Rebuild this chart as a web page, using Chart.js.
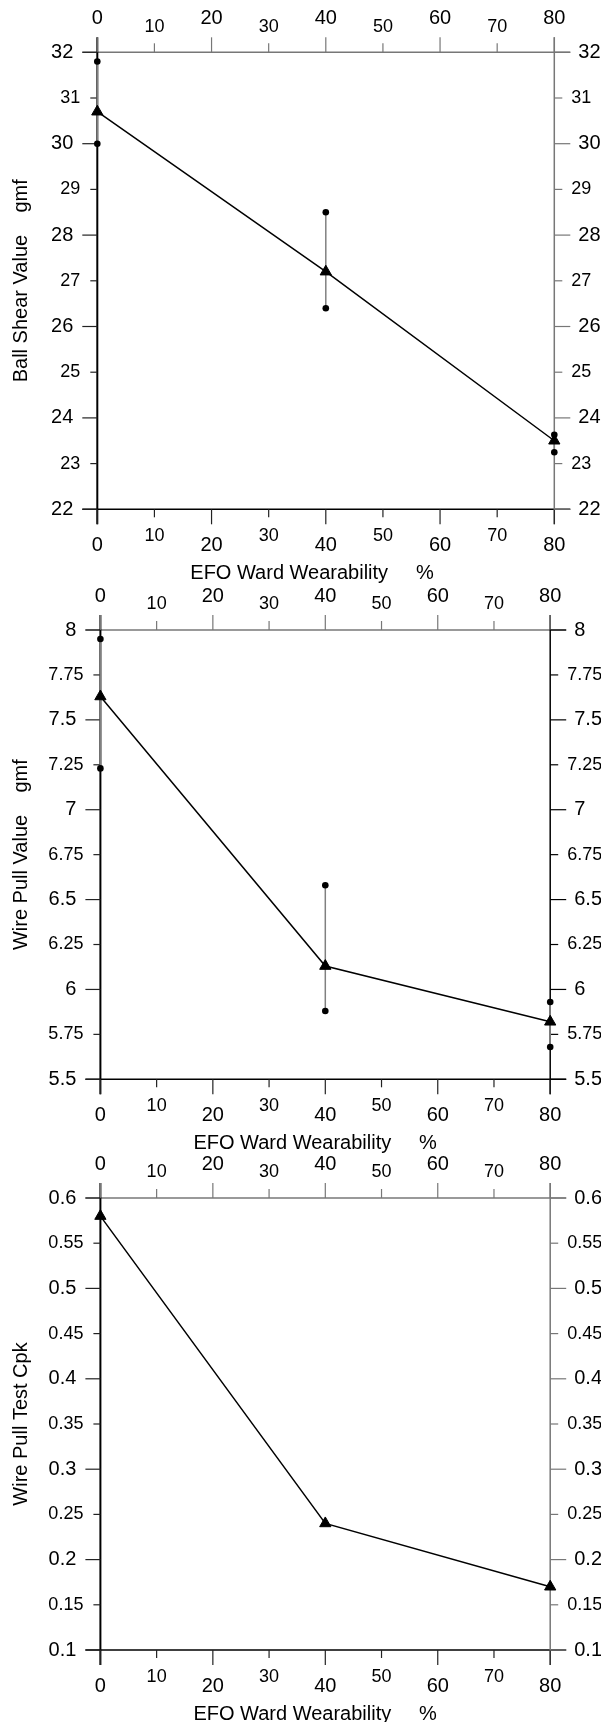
<!DOCTYPE html>
<html>
<head>
<meta charset="utf-8">
<script src="https://cdn.jsdelivr.net/npm/chart.js@4.4.0/dist/chart.umd.min.js"></script>
<style>
html, body { margin: 0; padding: 0; background: #fff; }
#wrap { position: relative; width: 601px; height: 1722px; }
canvas { position: absolute; left: 0; }
</style>
</head>
<body>
<div id="wrap">
  <canvas id="shearChart" style="top:0px" width="601" height="586"></canvas>
  <canvas id="pullChart" style="top:586px" width="601" height="567"></canvas>
  <canvas id="cpkChart" style="top:1153px" width="601" height="569"></canvas>
</div>
<script>
// data
const wearability = [0, 40, 80];

const shearMean = [30.7, 27.2, 23.5];
const shearMax = [31.8, 28.5, 23.63];
const shearMin = [30.0, 26.4, 23.25];

const pullMean = [7.63, 6.13, 5.82];
const pullMax = [7.95, 6.58, 5.93];
const pullMin = [7.23, 5.88, 5.68];

const cpkValues = [0.58, 0.24, 0.17];

const xTicks = [0, 10, 20, 30, 40, 50, 60, 70, 80];
const shearTicks = [22, 23, 24, 25, 26, 27, 28, 29, 30, 31, 32];
const pullTicks = [5.5, 5.75, 6, 6.25, 6.5, 6.75, 7, 7.25, 7.5, 7.75, 8];
const cpkTicks = [0.1, 0.15, 0.2, 0.25, 0.3, 0.35, 0.4, 0.45, 0.5, 0.55, 0.6];

const xTitle = 'EFO Ward Wearability     %';

const FONT = "'Liberation Sans', Arial, sans-serif";

function seg(ctx, x1, y1, x2, y2, color, width) {
    ctx.strokeStyle = color;
    ctx.lineWidth = width;
    ctx.beginPath();
    ctx.moveTo(x1, y1);
    ctx.lineTo(x2, y2);
    ctx.stroke();
}

// draws the boxed axes with staggered ticks and labels
const axisFrame = {
    id: 'axisFrame',
    beforeDatasetsDraw(chart, args, opts) {
        const ctx = chart.ctx;
        const a = chart.chartArea;
        const xs = chart.scales.x;
        const ys = chart.scales.y;
        ctx.save();

        // frame lines
        seg(ctx, a.left - 15, a.top, a.right + 16, a.top, opts.topColor, 1.5);
        seg(ctx, a.left - 15, a.bottom, a.right + 16, a.bottom, '#000', 1.5);
        seg(ctx, a.left, a.top - 15, a.left, a.bottom + 15, '#000', 2);
        seg(ctx, a.right, a.top - 15, a.right, a.bottom + 15, opts.rightColor, 1.5);

        ctx.fillStyle = '#000';

        // x ticks top and bottom
        xTicks.forEach((v, i) => {
            const major = i % 2 === 0;
            const px = xs.getPixelForValue(v);
            seg(ctx, px, a.top, px, a.top - (major ? 15 : 9), opts.topColor, 1.2);
            seg(ctx, px, a.bottom, px, a.bottom + (major ? 15 : 8), '#222', 1.2);
            ctx.font = (major ? 20 : 18) + 'px ' + FONT;
            ctx.textAlign = 'center';
            ctx.textBaseline = 'middle';
            ctx.fillText(String(v), px, a.top - (major ? 34 : 25.5));
            ctx.fillText(String(v), px, a.bottom + (major ? 36 : 27));
        });

        // y ticks left and right
        opts.yTicks.forEach((v, i) => {
            const major = i % 2 === 0;
            const py = ys.getPixelForValue(v);
            seg(ctx, a.left, py, a.left - (major ? 15 : 7), py, '#222', 1.2);
            seg(ctx, a.right, py, a.right + (major ? 16 : 8), py, opts.rightColor, 1.2);
            ctx.font = (major ? 20 : 18) + 'px ' + FONT;
            ctx.textBaseline = 'middle';
            ctx.textAlign = 'right';
            ctx.fillText(String(v), a.left - (major ? 24 : 17), py);
            ctx.textAlign = 'left';
            ctx.fillText(String(v), a.right + (major ? 24 : 17), py);
        });

        // axis titles
        ctx.font = '20px ' + FONT;
        ctx.textAlign = 'left';
        ctx.textBaseline = 'middle';
        ctx.fillText(xTitle, a.left + 93, a.bottom + 64);

        ctx.translate(21, (a.top + a.bottom) / 2);
        ctx.rotate(-Math.PI / 2);
        ctx.textAlign = 'center';
        ctx.fillText(opts.yTitle, 0, 0);

        ctx.restore();
    }
};

function rangeSets(mins, maxs) {
    return wearability.map((x, i) => ({
        data: [{ x: x, y: mins[i] }, { x: x, y: maxs[i] }],
        showLine: true,
        borderColor: '#808080',
        borderWidth: 1.5,
        pointRadius: 3.3,
        pointBackgroundColor: '#000',
        pointBorderColor: '#000',
        pointBorderWidth: 0,
        clip: false
    }));
}

function meanSet(values) {
    return {
        data: wearability.map((x, i) => ({ x: x, y: values[i] })),
        showLine: true,
        borderColor: '#000',
        borderWidth: 1.5,
        pointStyle: 'triangle',
        pointRadius: 6.5,
        pointBackgroundColor: '#000',
        pointBorderColor: '#000',
        pointBorderWidth: 1,
        clip: false
    };
}

function makeChart(id, datasets, yMin, yMax, padding, frame) {
    return new Chart(document.getElementById(id), {
        type: 'scatter',
        data: { datasets: datasets },
        options: {
            responsive: false,
            animation: false,
            devicePixelRatio: 1,
            layout: { padding: padding },
            elements: { line: { tension: 0 } },
            plugins: {
                legend: { display: false },
                tooltip: { enabled: false },
                axisFrame: frame
            },
            scales: {
                x: { type: 'linear', min: 0, max: 80, display: false },
                y: { type: 'linear', min: yMin, max: yMax, display: false }
            }
        },
        plugins: [axisFrame]
    });
}

// Ball shear chart
makeChart('shearChart',
    [meanSet(shearMean)].concat(rangeSets(shearMin, shearMax)),
    22, 32,
    { left: 97.3, right: 46.7, top: 52.3, bottom: 76.7 },
    { topColor: '#777', rightColor: '#777', yTicks: shearTicks, yTitle: 'Ball Shear Value    gmf' });

// Wire pull chart
makeChart('pullChart',
    [meanSet(pullMean)].concat(rangeSets(pullMin, pullMax)),
    5.5, 8,
    { left: 100.4, right: 50.8, top: 44, bottom: 73.7 },
    { topColor: '#777', rightColor: '#000', yTicks: pullTicks, yTitle: 'Wire Pull Value    gmf' });

// Cpk chart
makeChart('cpkChart',
    [meanSet(cpkValues)],
    0.1, 0.6,
    { left: 100.4, right: 50.8, top: 45, bottom: 72 },
    { topColor: '#777', rightColor: '#777', yTicks: cpkTicks, yTitle: 'Wire Pull Test Cpk' });
</script>
</body>
</html>
